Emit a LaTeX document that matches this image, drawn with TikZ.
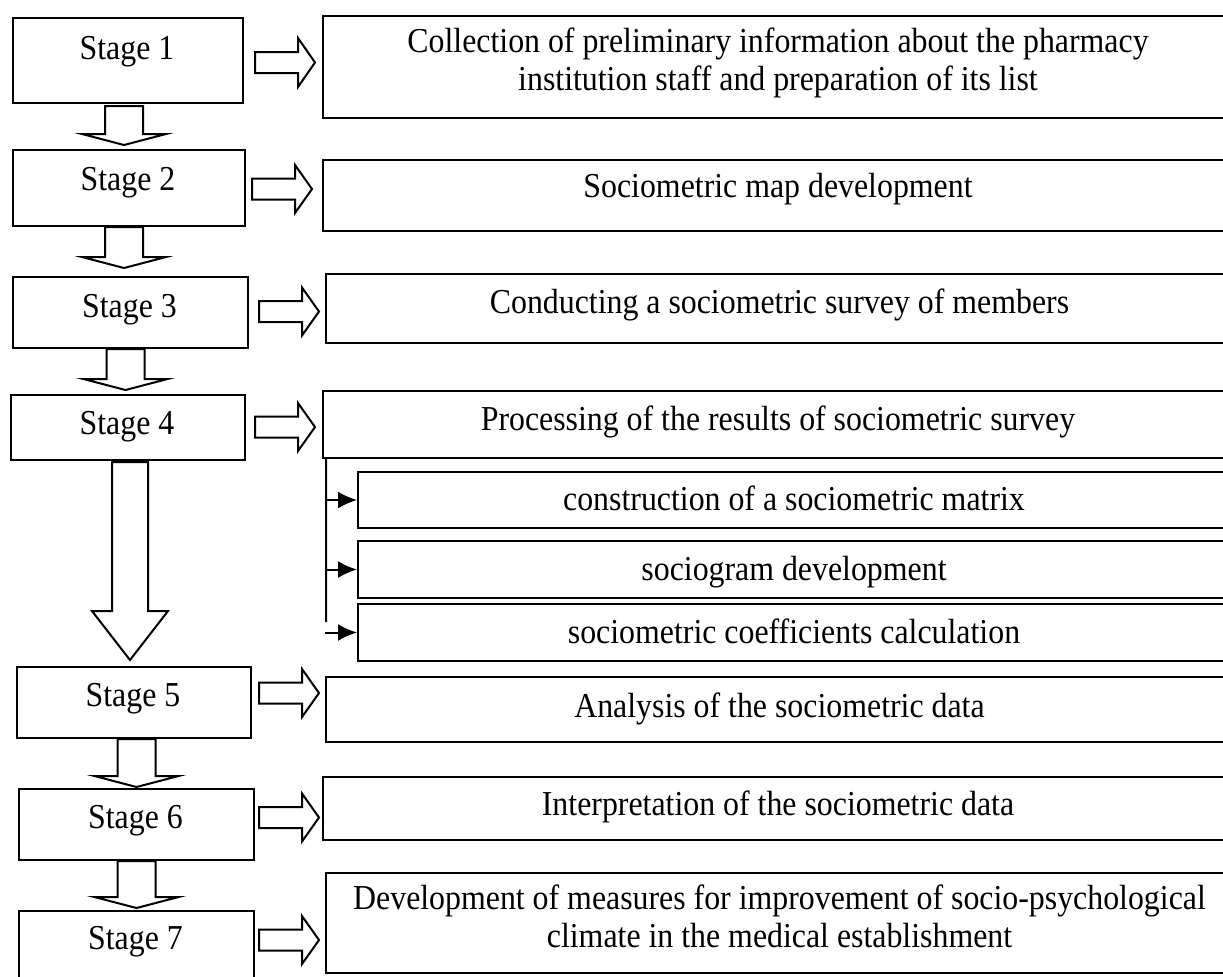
\documentclass[tikz,border=0pt]{standalone}
\usepackage{fontspec}
\setmainfont[FakeStretch=0.91]{Liberation Serif}
\usetikzlibrary{arrows.meta}
\definecolor{SMInk}{HTML}{000000}
\definecolor{SMPaper}{HTML}{FFFFFF}

\tikzset{
  stagebox/.style={draw=SMInk,line width=.8pt,anchor=north west,inner sep=0pt},
  stepbox/.style={draw=SMInk,line width=.8pt,anchor=north west,inner sep=0pt,minimum width=364.8pt},
  subbox/.style={draw=SMInk,line width=.8pt,anchor=north west,inner sep=0pt,minimum width=349.6pt},
  boxtext/.style={anchor=base,inner sep=0pt,align=center,font=\fontsize{14}{15}\selectfont},
  hollow/.style={draw=SMInk,fill=SMPaper,line width=.8pt,line join=miter},
  feed/.style={draw=SMInk,line width=.8pt,-{Latex[length=7.6pt,width=6.8pt]}}
}

\begin{document}
\begin{tikzpicture}[x=.4pt,y=-.4pt]
\useasboundingbox (0,0) rectangle (1223,976);
\clip (0,0) rectangle (1223,976);
\fill[SMPaper] (0,0) rectangle (1223,976);
% stage boxes
\node[stagebox,minimum width=92pt,minimum height=34pt] (s1) at (12,17) {};
\node[boxtext] (s1t) at (127,59) {Stage 1};
\node[stagebox,minimum width=92.8pt,minimum height=30.4pt] (s2) at (12,149) {};
\node[boxtext] (s2t) at (128,190) {Stage 2};
\node[stagebox,minimum width=94pt,minimum height=28.4pt] (s3) at (12,276) {};
\node[boxtext] (s3t) at (129.5,317) {Stage 3};
\node[stagebox,minimum width=93.6pt,minimum height=26pt] (s4) at (10,394) {};
\node[boxtext] (s4t) at (127,434) {Stage 4};
\node[stagebox,minimum width=93.6pt,minimum height=28.4pt] (s5) at (16,666) {};
\node[boxtext] (s5t) at (133,706) {Stage 5};
\node[stagebox,minimum width=94pt,minimum height=28.4pt] (s6) at (18,788) {};
\node[boxtext] (s6t) at (135.5,828) {Stage 6};
\node[stagebox,minimum width=94pt,minimum height=32pt] (s7) at (18,910) {};
\node[boxtext] (s7t) at (135.5,949) {Stage 7};
% step boxes
\node[stepbox,minimum height=40.8pt] (r1) at (322,15) {};
\node[boxtext] (r1t) at (778,90) {Collection of preliminary information about the pharmacy\\institution staff and preparation of its list};
\node[stepbox,minimum height=28.4pt] (r2) at (322,159) {};
\node[boxtext] (r2t) at (778,197) {Sociometric map development};
\node[stepbox,minimum height=27.6pt] (r3) at (325,273) {};
\node[boxtext] (r3t) at (779.5,313) {Conducting a sociometric survey of members};
\node[stepbox,minimum height=26.8pt] (r4) at (322,390) {};
\node[boxtext] (r4t) at (778,430) {Processing of the results of sociometric survey};
\node[subbox,minimum height=22.4pt] (sa) at (357,471) {};
\node[boxtext] (sat) at (794,510) {construction of a sociometric matrix};
\node[subbox,minimum height=22.8pt] (sb) at (357,540) {};
\node[boxtext] (sbt) at (794,580) {sociogram development};
\node[subbox,minimum height=22.8pt] (sc) at (357,603) {};
\node[boxtext] (sct) at (794,643) {sociometric coefficients calculation};
\node[stepbox,minimum height=26pt] (r5) at (325,676) {};
\node[boxtext] (r5t) at (779.5,717) {Analysis of the sociometric data};
\node[stepbox,minimum height=25.2pt] (r6) at (322,776) {};
\node[boxtext] (r6t) at (778,815) {Interpretation of the sociometric data};
\node[stepbox,minimum height=40pt] (r7) at (325,872) {};
\node[boxtext] (r7t) at (779.5,947) {Development of measures for improvement of socio-psychological\\climate in the medical establishment};
% hollow arrows, stage to step
\draw[hollow] (255,52) -- ++(43,0) -- ++(0,-14) -- ++(17,24.5) -- ++(-17,24.5) -- ++(0,-14) -- ++(-43,0) -- cycle;
\draw[hollow] (252,178.5) -- ++(43,0) -- ++(0,-13.5) -- ++(17,24) -- ++(-17,24) -- ++(0,-13.5) -- ++(-43,0) -- cycle;
\draw[hollow] (259,301) -- ++(43,0) -- ++(0,-13.5) -- ++(17,24) -- ++(-17,24) -- ++(0,-13.5) -- ++(-43,0) -- cycle;
\draw[hollow] (255,416.5) -- ++(43,0) -- ++(0,-13.5) -- ++(17,24) -- ++(-17,24) -- ++(0,-13.5) -- ++(-43,0) -- cycle;
\draw[hollow] (259,682.5) -- ++(43,0) -- ++(0,-13.5) -- ++(17,24) -- ++(-17,24) -- ++(0,-13.5) -- ++(-43,0) -- cycle;
\draw[hollow] (259,807) -- ++(43,0) -- ++(0,-13.5) -- ++(17,24) -- ++(-17,24) -- ++(0,-13.5) -- ++(-43,0) -- cycle;
\draw[hollow] (259,929.5) -- ++(43,0) -- ++(0,-13.5) -- ++(17,24) -- ++(-17,24) -- ++(0,-13.5) -- ++(-43,0) -- cycle;
% hollow arrows, stage to stage
\draw[hollow] (105,106) -- ++(38,0) -- ++(0,28) -- ++(23,0) -- ++(-42,11) -- ++(-42,-11) -- ++(23,0) -- cycle;
\draw[hollow] (105,227) -- ++(38,0) -- ++(0,30) -- ++(23,0) -- ++(-42,11) -- ++(-42,-11) -- ++(23,0) -- cycle;
\draw[hollow] (106.5,349) -- ++(38,0) -- ++(0,30) -- ++(23,0) -- ++(-42,11) -- ++(-42,-11) -- ++(23,0) -- cycle;
\draw[hollow] (112,462) -- ++(36,0) -- ++(0,149) -- ++(20,0) -- ++(-38,49) -- ++(-38,-49) -- ++(20,0) -- cycle;
\draw[hollow] (117.5,739) -- ++(38,0) -- ++(0,37) -- ++(23,0) -- ++(-42,11) -- ++(-42,-11) -- ++(23,0) -- cycle;
\draw[hollow] (117.5,861) -- ++(38,0) -- ++(0,36) -- ++(23,0) -- ++(-42,11) -- ++(-42,-11) -- ++(23,0) -- cycle;
% processing sub-steps
\coordinate (bus) at ([xshift=1.6pt]r4.south west);
\coordinate (busend) at (326,622);
\draw[draw=SMInk,line width=.8pt] (bus) -- (busend);
\draw[feed] (bus |- sa.west) -- (sa.west);
\draw[feed] (bus |- sb.west) -- (sb.west);
\draw[feed] ([xshift=-.4pt]bus |- sc.west) -- (sc.west);
\end{tikzpicture}
\end{document}
